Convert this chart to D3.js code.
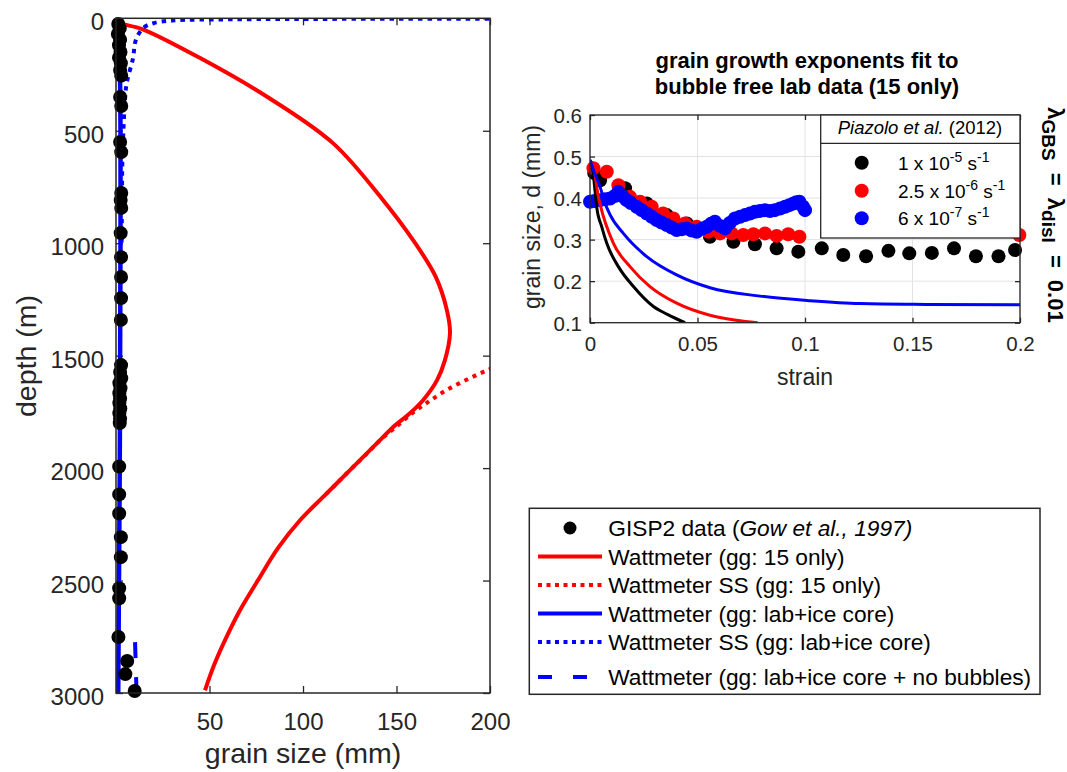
<!DOCTYPE html>
<html>
<head>
<meta charset="utf-8">
<script src="https://cdn.jsdelivr.net/npm/d3@7"></script>
<style>
  body { margin: 0; background: #fff; }
  svg { font-family: "Liberation Sans", Arial, Helvetica, sans-serif; }
</style>
</head>
<body>
<svg id="fig" width="1067" height="772"></svg>
<script>
// ---- depth profile (grain size mm, depth m) ----
const gispData = [[1.2,25],[2,45],[1,70],[2.2,95],[1.6,120],[2.4,150],[1.6,175],[2.6,200],[2.2,230],[2.8,255],
  [2.2,350],[2.8,390],[2.2,550],[2.8,595],[2.8,777],[2.5,808],[2.8,843],[2.5,955],[2.7,1062],[2.7,1150],
  [2.7,1244],[2.6,1341],[2.7,1542],[2.2,1573],[2.8,1600],[1.8,1622],[2.4,1645],[1.8,1667],[2.2,1690],
  [1.8,1711],[2.3,1735],[1.8,1756],[2.2,1780],[2,1800],[1.7,1993],[1.7,2117],[1.7,2202],[2.6,2307],
  [2.6,2396],[1.7,2534],[1.7,2579],[1.3,2751],[6,2858],[5,2916],[10,2991]]
const wattRed = [[0.5,0],[1.5,18],[14,48],[45,177],[81,350],[116,555],[142,800],[160,1000],[171,1150],
  [177,1300],[178.6,1400],[175.9,1520],[171.7,1609],[164.2,1698],[157.2,1756],[148.1,1818],[141.2,1876],
  [126.2,2000],[112.3,2116],[98.4,2232],[86.6,2356],[75.9,2499],[66.3,2632],[58.3,2765],[52.4,2877],[47.6,2988]]
const wattRedSS = [[112.3,2116],[126.2,2000],[134,1937],[141.2,1876],[150,1815],[159,1752],[168,1700],
  [177,1652],[188,1605],[199,1563],[210,1525]]
const wattBlue = [[0.3,0],[1.2,50],[2,200],[2.4,500],[2.4,1000],[2.2,1500],[2,2000],[1.6,2500],[1.2,3000]]
const wattBlueSS = [[230,1.2],[120,2.5],[62,4.5],[30,10],[20,22],[14.4,44],[10.5,100],[9.1,177],[5.7,289],
  [4.8,363],[3.9,511],[3.4,630],[3.1,900],[3,1000]]
const wattBlueNoBubbles = [[10.2,2774],[10.6,2890],[11,3000]]
const depthTicks = [0,500,1000,1500,2000,2500,3000]
const grainTicks = [50,100,150,200]

// ---- inset: lab data (strain, d mm) ----
const lab1e5 = [[0.002,0.46],[0.0047,0.443],[0.0163,0.4235],[0.0264,0.387],[0.0357,0.359],[0.045,0.339],
  [0.0558,0.307],[0.0667,0.295],[0.0767,0.289],[0.0868,0.279],[0.0969,0.271],[0.1078,0.279],[0.1178,0.263],
  [0.1284,0.26],[0.1388,0.273],[0.1485,0.267],[0.159,0.268],[0.1693,0.279],[0.1795,0.26],[0.19,0.26],[0.1977,0.275]]
const lab25e6 = [[0.0016,0.472],[0.0078,0.4635],[0.0132,0.431],[0.0186,0.403],[0.0233,0.391],[0.0287,0.379],
  [0.034,0.363],[0.0388,0.351],[0.0442,0.339],[0.0496,0.331],[0.055,0.319],[0.0605,0.315],[0.0659,0.315],
  [0.0713,0.311],[0.076,0.313],[0.0814,0.315],[0.0868,0.309],[0.0922,0.313],[0.0974,0.307],[0.1997,0.311]]
const lab6e7 = [[0,0.391],[0.002,0.393],[0.0047,0.395],[0.007,0.397],[0.0093,0.399],[0.0115,0.405],[0.0132,0.415],
  [0.015,0.405],[0.017,0.395],[0.019,0.388],[0.0217,0.379],[0.024,0.371],[0.0264,0.363],[0.0287,0.355],
  [0.031,0.347],[0.0333,0.341],[0.0357,0.335],[0.038,0.329],[0.0403,0.323],[0.0426,0.325],[0.045,0.327],
  [0.0473,0.322],[0.0496,0.319],[0.052,0.326],[0.0543,0.331],[0.0562,0.338],[0.0581,0.343],[0.0605,0.333],
  [0.0628,0.327],[0.065,0.34],[0.0674,0.351],[0.0698,0.355],[0.0721,0.359],[0.0744,0.363],[0.0767,0.367],
  [0.079,0.369],[0.0814,0.371],[0.0837,0.369],[0.086,0.371],[0.0884,0.375],[0.0907,0.379],[0.0927,0.383],
  [0.0946,0.387],[0.096,0.39],[0.0974,0.391],[0.099,0.38],[0.1,0.371]]
const fit1e5 = [[0,0.49],[0.0008,0.484],[0.0023,0.419],[0.0031,0.379],[0.0055,0.33],[0.0078,0.291],
  [0.0132,0.235],[0.0202,0.187],[0.0295,0.139],[0.036,0.12],[0.0442,0.1]]
const fit25e6 = [[0,0.49],[0.0016,0.476],[0.0039,0.403],[0.0047,0.385],[0.0109,0.291],[0.0186,0.235],
  [0.0279,0.187],[0.0403,0.147],[0.0558,0.118],[0.068,0.106],[0.078,0.1]]
const fit6e7 = [[0,0.492],[0.0025,0.455],[0.0047,0.427],[0.0065,0.395],[0.0093,0.36],[0.0155,0.315],
  [0.0264,0.259],[0.0403,0.215],[0.0558,0.184],[0.0791,0.164],[0.1023,0.153],[0.1256,0.146],[0.1566,0.144],[0.2,0.143]]
const strainTicks = [0,0.05,0.1,0.15,0.2]
const sizeTicks = [0.1,0.2,0.3,0.4,0.5,0.6]

const svg = d3.select('#fig')
const AX = '#262626'

//---------- left panel ----------
const xL = d3.scaleLinear([0,200],[116,490])
const yL = d3.scaleLinear([0,3000],[18.3,693])

svg.append('clipPath').attr('id','clipL').append('rect')
  .attr('x',116).attr('y',18.3).attr('width',374).attr('height',674.7)

const gL = svg.append('g').attr('class','depth-g')

function styleAxis(g, fs) {
  g.select('.domain').remove()
  g.selectAll('.tick line').attr('stroke',AX).attr('stroke-width',1.3)
  g.selectAll('text').attr('fill',AX).attr('font-size',fs)
}

gL.append('g').attr('transform','translate(0,693)')
  .call(d3.axisBottom(xL).tickValues(grainTicks).tickSize(-7).tickPadding(20).tickFormat(d3.format('d')))
  .call(g => styleAxis(g,24))
gL.append('g').attr('transform','translate(0,18.3)')
  .call(d3.axisTop(xL).tickValues(grainTicks).tickSize(-7).tickFormat(''))
  .call(g => styleAxis(g,24))
gL.append('g').attr('transform','translate(116,0)')
  .call(d3.axisLeft(yL).tickValues(depthTicks).tickSize(-7).tickPadding(12).tickFormat(d3.format('d')))
  .call(g => { styleAxis(g,24); g.selectAll('text').attr('dy','0.48em') })
gL.append('g').attr('transform','translate(490,0)')
  .call(d3.axisRight(yL).tickValues(depthTicks).tickSize(-7).tickFormat(''))
  .call(g => styleAxis(g,24))

const lineL = d3.line().x(d => xL(d[0])).y(d => yL(d[1])).curve(d3.curveCatmullRom.alpha(0.5))
const plotL = gL.append('g').attr('clip-path','url(#clipL)')

// markers are not clipped (they overhang the left axis)
gL.append('g').selectAll('circle').data(gispData).enter().append('circle')
  .attr('cx', d => xL(d[0])).attr('cy', d => yL(d[1])).attr('r',7).attr('fill','#000')

plotL.append('path').attr('d',lineL(wattRed)).attr('fill','none').attr('stroke','#f00').attr('stroke-width',4)
plotL.append('path').attr('d',lineL(wattRedSS)).attr('fill','none').attr('stroke','#f00').attr('stroke-width',4)
  .attr('stroke-dasharray','4,5')
plotL.append('path').attr('d',lineL(wattBlue)).attr('fill','none').attr('stroke','#00f').attr('stroke-width',4.5)
plotL.append('path').attr('d',lineL(wattBlueSS)).attr('fill','none').attr('stroke','#00f').attr('stroke-width',4)
  .attr('stroke-dasharray','4.5,5')
plotL.append('path').attr('d',lineL(wattBlueNoBubbles)).attr('fill','none').attr('stroke','#00f').attr('stroke-width',4)
  .attr('stroke-dasharray','16,19')

gL.append('rect').attr('x',116).attr('y',18.3).attr('width',374).attr('height',674.7)
  .attr('fill','none').attr('stroke',AX).attr('stroke-width',1.5)

gL.append('text').text('grain size (mm)').attr('x',303).attr('y',763)
  .attr('text-anchor','middle').attr('font-size',28.5).attr('fill',AX)
gL.append('text').text('depth (m)').attr('transform','translate(36,356) rotate(-90)')
  .attr('text-anchor','middle').attr('font-size',28.5).attr('fill',AX)

//---------- inset ----------
const xI = d3.scaleLinear([0,0.2],[590,1020])
const yI = d3.scaleLinear([0.1,0.6],[322.7,115])
const gI = svg.append('g').attr('class','inset-g')

svg.append('clipPath').attr('id','clipI').append('rect')
  .attr('x',590).attr('y',115).attr('width',430).attr('height',207.7)

// grid
gI.selectAll('.gx').data(strainTicks).enter().append('line')
  .attr('x1',d => xI(d)).attr('x2',d => xI(d)).attr('y1',115).attr('y2',322.7)
  .attr('stroke','#e3e3e3').attr('stroke-width',1)
gI.selectAll('.gy').data(sizeTicks).enter().append('line')
  .attr('y1',d => yI(d)).attr('y2',d => yI(d)).attr('x1',590).attr('x2',1020)
  .attr('stroke','#e3e3e3').attr('stroke-width',1)

const fmtStrain = d => d === 0 ? '0' : String(d)
gI.append('g').attr('transform','translate(0,322.7)')
  .call(d3.axisBottom(xI).tickValues(strainTicks).tickSize(-5).tickPadding(14).tickFormat(fmtStrain))
  .call(g => styleAxis(g,20.5))
gI.append('g').attr('transform','translate(0,115)')
  .call(d3.axisTop(xI).tickValues(strainTicks).tickSize(-5).tickFormat(''))
  .call(g => styleAxis(g,20.5))
gI.append('g').attr('transform','translate(590,0)')
  .call(d3.axisLeft(yI).tickValues(sizeTicks).tickSize(-5).tickPadding(8).tickFormat(d3.format('.1f')))
  .call(g => { styleAxis(g,20.5); g.selectAll('text').attr('dy','0.37em') })
gI.append('g').attr('transform','translate(1020,0)')
  .call(d3.axisRight(yI).tickValues(sizeTicks).tickSize(-5).tickFormat(''))
  .call(g => styleAxis(g,20.5))

const series = [
  {pts: lab1e5, fit: fit1e5, color: '#000'},
  {pts: lab25e6, fit: fit25e6, color: '#f00'},
  {pts: lab6e7, fit: fit6e7, color: '#00f'}
]
series.forEach(s => {
  gI.append('g').selectAll('circle').data(s.pts).enter().append('circle')
    .attr('cx', d => xI(d[0])).attr('cy', d => yI(d[1])).attr('r',7).attr('fill',s.color)
})
const lineI = d3.line().x(d => xI(d[0])).y(d => yI(d[1])).curve(d3.curveMonotoneX)
const fits = gI.append('g').attr('clip-path','url(#clipI)')
series.forEach(s => {
  fits.append('path').attr('d',lineI(s.fit)).attr('fill','none').attr('stroke',s.color).attr('stroke-width',3)
})

gI.append('rect').attr('x',590).attr('y',115).attr('width',430).attr('height',207.7)
  .attr('fill','none').attr('stroke',AX).attr('stroke-width',1.3)

gI.append('text').text('strain').attr('x',805).attr('y',385)
  .attr('text-anchor','middle').attr('font-size',23).attr('fill',AX)
gI.append('text').text('grain size, d (mm)').attr('transform','translate(540,217) rotate(-90)')
  .attr('text-anchor','middle').attr('font-size',23).attr('fill',AX)

const title = gI.append('text').attr('text-anchor','middle').attr('font-size',22)
  .attr('font-weight','bold').attr('fill','#000')
title.append('tspan').attr('x',807).attr('y',68).text('grain growth exponents fit to')
title.append('tspan').attr('x',807).attr('y',94).text('bubble free lab data (15 only)')

// inset legend
const legI = gI.append('g')
legI.append('rect').attr('x',820.7).attr('y',115).attr('width',199.3).attr('height',123)
  .attr('fill','#fff').attr('stroke',AX).attr('stroke-width',1.3)
legI.append('line').attr('x1',820.7).attr('x2',1020).attr('y1',143.3).attr('y2',143.3)
  .attr('stroke',AX).attr('stroke-width',1.3)
const head = legI.append('text').attr('x',920).attr('y',134).attr('text-anchor','middle')
  .attr('font-size',18.5).attr('fill','#000')
head.append('tspan').attr('font-style','italic').text('Piazolo et al.')
head.append('tspan').text(' (2012)')

const rateLabels = [['1','-5'],['2.5','-6'],['6','-7']]
const rateY = [162.7,190.7,218.3]
series.forEach((s,i) => {
  legI.append('circle').attr('cx',861.7).attr('cy',rateY[i]).attr('r',7).attr('fill',s.color)
  const t = legI.append('text').attr('x',898).attr('y',rateY[i] + 7).attr('font-size',19).attr('fill','#000')
  t.append('tspan').text(rateLabels[i][0] + ' x 10')
  t.append('tspan').attr('dy',-8).attr('font-size',14).text(rateLabels[i][1])
  t.append('tspan').attr('dy',8).text(' s')
  t.append('tspan').attr('dy',-8).attr('font-size',14).text('-1')
})

// lambda label, reads top to bottom
const lam = svg.append('text').attr('transform','translate(1048,215) rotate(90)')
  .attr('text-anchor','middle').attr('font-size',22).attr('font-weight','bold')
  .attr('word-spacing',6).attr('fill','#000')
lam.append('tspan').text('λ')
lam.append('tspan').attr('dy',6).attr('font-size',19).text('GBS')
lam.append('tspan').attr('dy',-6).text(' = λ')
lam.append('tspan').attr('dy',6).attr('font-size',19).text('disl')
lam.append('tspan').attr('dy',-6).text(' = 0.01')

//---------- main legend ----------
const legendItems = [
  {type: 'dot', color: '#000'},
  {type: 'line', color: '#f00', dash: null, text: 'Wattmeter (gg: 15 only)'},
  {type: 'line', color: '#f00', dash: '4,4.5', text: 'Wattmeter SS (gg: 15 only)'},
  {type: 'line', color: '#00f', dash: null, text: 'Wattmeter (gg: lab+ice core)'},
  {type: 'line', color: '#00f', dash: '4,4.5', text: 'Wattmeter SS (gg: lab+ice core)'},
  {type: 'line', color: '#00f', dash: '14,21', text: 'Wattmeter (gg: lab+ice core + no bubbles)'}
]
const legendY = [528,556.5,585,613.5,642,677]
const legM = svg.append('g').attr('class','legend-g')
legM.append('rect').attr('x',529.3).attr('y',508.3).attr('width',510.7).attr('height',186)
  .attr('fill','#fff').attr('stroke',AX).attr('stroke-width',1.5)
legendItems.forEach((it,i) => {
  const y = legendY[i]
  if (it.type === 'dot') {
    legM.append('circle').attr('cx',570).attr('cy',y).attr('r',6.5).attr('fill','#000')
    const t = legM.append('text').attr('x',608.3).attr('y',y + 8).attr('font-size',22.7).attr('fill','#000')
    t.append('tspan').text('GISP2 data (')
    t.append('tspan').attr('font-style','italic').text('Gow et al., 1997)')
  } else {
    legM.append('line').attr('x1',538).attr('x2',602).attr('y1',y).attr('y2',y)
      .attr('stroke',it.color).attr('stroke-width',4).attr('stroke-dasharray',it.dash)
    legM.append('text').attr('x',608.3).attr('y',y + 8).attr('font-size',22.7).attr('fill','#000').text(it.text)
  }
})
</script>
</body>
</html>
